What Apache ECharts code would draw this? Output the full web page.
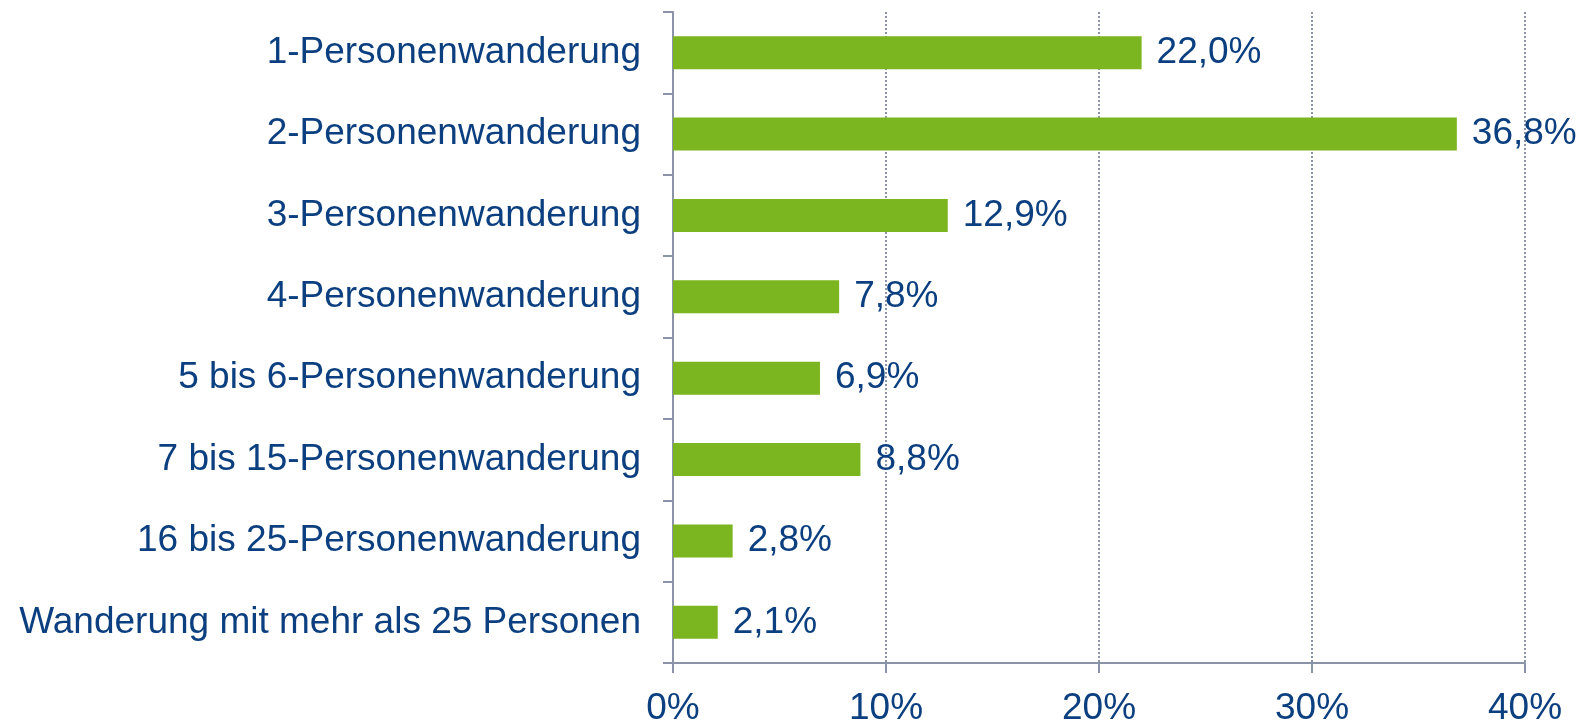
<!DOCTYPE html>
<html>
<head>
<meta charset="utf-8">
<script src="https://cdn.jsdelivr.net/npm/echarts@6/dist/echarts.min.js"></script>
<style>
  html, body { margin: 0; padding: 0; background: #fff; }
  #chart { width: 1585px; height: 723px; }
</style>
</head>
<body>
<div id="chart"></div>
<script>
// Wanderungsgruppen (von oben nach unten)
const categories = [
  '1-Personenwanderung',
  '2-Personenwanderung',
  '3-Personenwanderung',
  '4-Personenwanderung',
  '5 bis 6-Personenwanderung',
  '7 bis 15-Personenwanderung',
  '16 bis 25-Personenwanderung',
  'Wanderung mit mehr als 25 Personen'
]
const shares = [22.0, 36.8, 12.9, 7.8, 6.9, 8.8, 2.8, 2.1]
const xTicks = [0, 10, 20, 30, 40]

const textColor = '#0b3f7f'
const axisColor = '#8b93a8'
const fontFamily = '"Liberation Sans", Arial, sans-serif'

const myChart = echarts.init(document.getElementById('chart'))
myChart.setOption({
  animation: false,
  grid: { left: 673, right: 60, top: 12, bottom: 60, containLabel: false, outerBoundsMode: 'none' },
  xAxis: {
    type: 'value',
    min: xTicks[0],
    max: xTicks[xTicks.length - 1],
    interval: 10,
    axisLine: { show: true, lineStyle: { color: axisColor, width: 2 } },
    axisTick: { show: true, length: 10, lineStyle: { color: axisColor, width: 2 } },
    axisLabel: {
      margin: 27,
      color: textColor,
      fontSize: 37,
      fontFamily,
      formatter: v => v + '%'
    },
    splitLine: { show: true, lineStyle: { color: axisColor, type: 'dotted', width: 2 } }
  },
  yAxis: {
    type: 'category',
    data: categories,
    inverse: true,
    axisLine: { show: true, lineStyle: { color: axisColor, width: 2 } },
    axisTick: { show: true, length: 10, lineStyle: { color: axisColor, width: 2 } },
    axisLabel: { margin: 32, color: textColor, fontSize: 37, fontFamily }
  },
  series: [{
    type: 'bar',
    data: shares,
    barWidth: 33,
    itemStyle: { color: '#7bb51f' },
    label: {
      show: true,
      position: 'right',
      distance: 15,
      color: textColor,
      fontSize: 37,
      fontFamily,
      formatter: p => p.value.toFixed(1).replace('.', ',') + '%'
    }
  }]
})
</script>
</body>
</html>
